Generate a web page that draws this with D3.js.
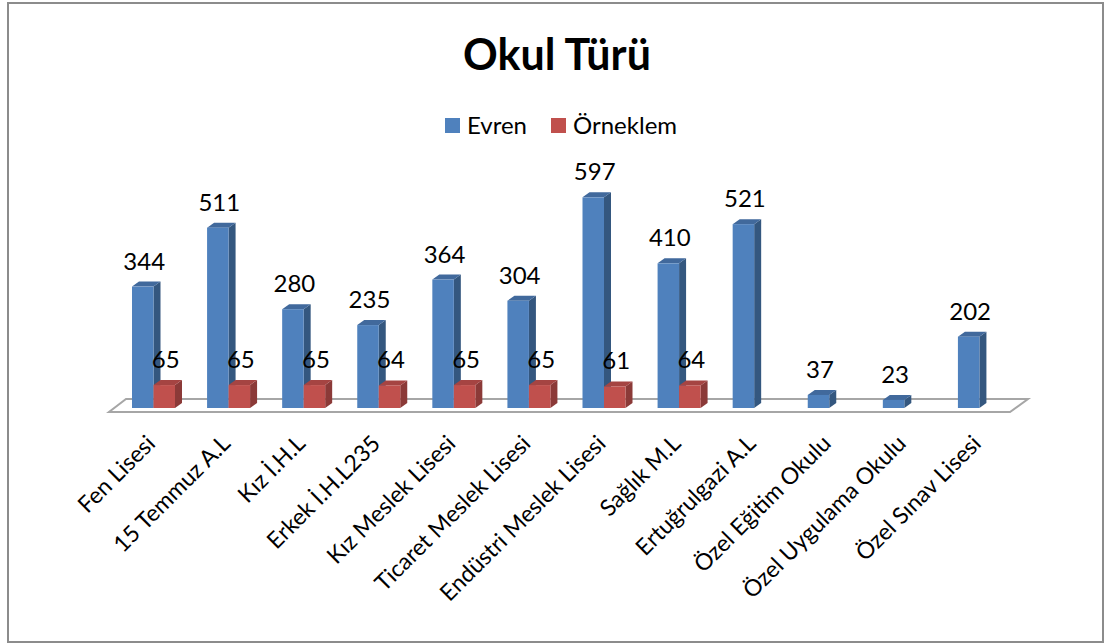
<!DOCTYPE html>
<html>
<head>
<meta charset="utf-8">
<script src="https://cdn.jsdelivr.net/npm/d3@7"></script>
<style>
  body { margin: 0; background: #fff; }
  text { font-family: Lato, "Open Sans", sans-serif; fill: #000; }
</style>
</head>
<body>
<svg id="chart" width="1105" height="644"></svg>
<script>
// Okul türüne göre evren ve örneklem sayıları
var categories = ["Fen Lisesi", "15 Temmuz A.L", "Kız İ.H.L", "Erkek İ.H.L235", "Kız Meslek Lisesi",
  "Ticaret Meslek Lisesi", "Endüstri Meslek Lisesi", "Sağlık M.L", "Ertuğrulgazi A.L",
  "Özel Eğitim Okulu", "Özel Uygulama Okulu", "Özel Sınav Lisesi"];
var evren = [344, 511, 280, 235, 364, 304, 597, 410, 521, 37, 23, 202];
var orneklem = [65, 65, 65, 64, 65, 65, 61, 64, null, null, null, null];
var seriesNames = ["Evren", "Örneklem"];

var colors = [
  { front: "#4F81BD", side: "#34577F", top: "#41699C" },
  { front: "#C0504D", side: "#8B3A38", top: "#A54442" }
];

var svg = d3.select("#chart");

// cadre
svg.append("rect")
  .attr("x", 8).attr("y", 3)
  .attr("width", 1095).attr("height", 639)
  .attr("fill", "#fff")
  .attr("stroke", "#8c8c8c")
  .attr("stroke-width", 2);

// titre
svg.append("text")
  .attr("x", 557).attr("y", 70)
  .attr("text-anchor", "middle")
  .style("font-size", "43px")
  .style("font-weight", "bold")
  .text("Okul Türü");

// légende
var legend = svg.append("g");
var legendX = [445, 551];
seriesNames.forEach(function (name, i) {
  legend.append("rect")
    .attr("x", legendX[i]).attr("y", 118)
    .attr("width", 15).attr("height", 15)
    .attr("fill", colors[i].front);
  legend.append("text")
    .attr("x", legendX[i] + 22).attr("y", 134)
    .style("font-size", "24px")
    .text(name);
});

var x = d3.scaleBand().domain(categories).range([117, 1018]);
var y = d3.scaleLinear().domain([0, 700]).range([408, 161]);

var barW = 21.5, depthX = 7, depthY = -5;

// sol (floor)
var floor = [[109, 412], [1010, 412], [1028, 399], [126, 399]];
svg.append("polygon")
  .attr("points", floor.map(function (p) { return p.join(","); }).join(" "))
  .attr("fill", "#fff")
  .attr("stroke", "#a6a6a6")
  .attr("stroke-width", 2);

function drawBar(g, x0, v, c) {
  var top = y(v), bot = y(0), x1 = x0 + barW;
  g.append("polygon")
    .attr("points", [[x1, top], [x1 + depthX, top + depthY], [x1 + depthX, bot + depthY], [x1, bot]].join(" "))
    .attr("fill", c.side);
  g.append("polygon")
    .attr("points", [[x0, top], [x0 + depthX, top + depthY], [x1 + depthX, top + depthY], [x1, top]].join(" "))
    .attr("fill", c.top);
  g.append("rect")
    .attr("x", x0).attr("y", top)
    .attr("width", barW).attr("height", bot - top)
    .attr("fill", c.front);
  g.append("text")
    .attr("x", x0 + barW / 2 + depthX / 2 - 2)
    .attr("y", top - 17)
    .attr("text-anchor", "middle")
    .style("font-size", "24px")
    .text(v);
}

var bars = svg.append("g");
categories.forEach(function (cat, i) {
  drawBar(bars, x(cat) + 15, evren[i], colors[0]);
  if (orneklem[i] != null) drawBar(bars, x(cat) + 15 + barW, orneklem[i], colors[1]);
});

// étiquettes de l'axe X
svg.append("g").selectAll("text")
  .data(categories)
  .enter()
  .append("text")
    .attr("transform", function (d) {
      return "translate(" + (x(d) + x.bandwidth() / 2 + 2) + ",445) rotate(-45)";
    })
    .attr("text-anchor", "end")
    .style("font-size", "23px")
    .text(function (d) { return d; });
</script>
</body>
</html>
